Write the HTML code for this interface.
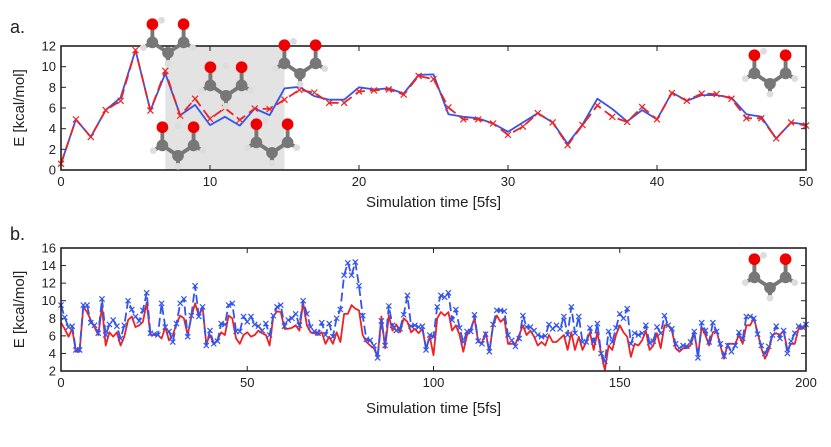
<!DOCTYPE html>
<html><head><meta charset="utf-8"><style>
body{margin:0;background:#fff;}
svg text{font-family:"Liberation Sans",Arial,sans-serif;fill:#222;}
</style></head><body>
<svg id="fig" width="831" height="442" viewBox="0 0 831 442" xmlns="http://www.w3.org/2000/svg"></svg>
<script>
// ---------- Panel a data ----------
const aX = Array.from({length:51},(_,i)=>i);
const aRed = [0.6,4.9,3.2,5.8,6.7,11.6,5.75,9.6,5.25,6.9,4.95,6.0,4.85,5.95,5.9,6.8,7.75,7.5,6.5,6.5,7.6,7.7,7.8,7.3,9.1,8.8,6.05,4.9,4.9,4.5,3.4,4.2,5.5,4.6,2.4,4.35,6.25,5.15,4.65,6.1,4.9,7.45,6.7,7.4,7.35,6.9,5.0,5.0,3.05,4.6,4.3];
const aBlue = [0.6,4.9,3.2,5.8,7.0,11.6,5.75,9.35,5.3,6.3,4.35,5.15,4.3,5.95,5.3,7.9,8.05,7.15,6.8,6.8,8.0,7.8,7.9,7.4,9.2,9.25,5.4,5.15,5.0,4.5,3.7,4.6,5.5,4.6,2.55,4.4,6.9,5.9,4.7,5.8,4.9,7.5,6.7,7.25,7.25,7.0,5.4,5.15,3.05,4.6,4.4];
const aXTicks = [0,10,20,30,40,50];
const aYTicks = [0,2,4,6,8,10,12];
const aShade = [7,15];
// ---------- Panel b data ----------
const bRed = [7.5,6.8,5.9,6.8,4.2,4.2,9.3,8.7,7.8,7,6.1,9.3,4.9,6.4,5.9,6.4,4.9,5.9,7.8,8.2,7,7.2,7.6,9.8,6.1,6.1,6.1,5.7,7,5.5,6.1,7.4,8.3,8,6.1,8.2,9.7,8.3,9.3,5.1,6.1,5.1,5.5,6.4,6.1,8.3,8,5.7,5.1,6.1,6.4,
5.9,6.1,6.6,6.3,6.1,4.9,8.2,8.8,8.7,6.8,6.8,6.9,7.2,6.6,9.8,7.2,6.4,6.3,6.1,6.4,5.1,5.9,5.1,6.4,5.3,8.5,8.5,9.5,9.1,8.9,6.1,5.3,4.9,4.6,3.6,8.2,4.6,8.3,6.6,7.3,6.4,8,7.6,6.4,6.8,6.3,6.8,4.6,5.9,3.8,
8,8.7,8.3,8.7,6.6,7.2,6.1,4.2,6.1,6.8,8,5.3,5.2,6.4,4.2,7.2,8.3,7.6,8,5.1,5.1,5.1,6.1,7.2,6.1,6.6,5.9,4.9,5.3,4.9,6.1,5.3,5.3,5.7,6.1,4.4,6.4,4.4,5.9,4.4,5.3,6.4,4.4,6.4,4,2.1,4.9,4.4,6.1,7.2,
6.4,5.9,3.6,5.1,4.9,5.5,6.6,4.4,4.9,6.3,4.6,7.2,7.2,6.6,4.6,4.2,4.6,4.6,4.9,6.3,3.8,7,6.1,4.9,6.4,6.6,4.9,3.4,5.1,5.1,5.1,6.1,5.1,7.2,7.2,8,6.4,4.6,3.4,4.4,6.1,6.3,6.1,6.6,4.4,5.1,5.1,6.8,6.8,7.2];
const bBlue = [9.5,8.1,7,7.1,4.4,4.4,9.5,9.5,7.5,7.2,6.3,10.2,6.1,7.3,7.8,7.1,5.7,7.2,10,9,8.2,7.7,8.9,10.9,6.3,6.2,6.1,9.7,7,6.5,5.3,7.4,9.7,10.2,5.9,8.3,11.7,8.2,9.3,4.9,6.6,5.1,5.4,7.4,7.3,9.5,9.7,6.5,6.5,8.2,7.6,
8.2,7.3,7.1,6.6,7.4,6.1,8.3,9.3,9.5,7.1,7.8,8,8.5,7.2,10,8.5,7,6.5,6.3,7.5,6.1,7.4,5.9,8,9,12.9,14.3,12.9,14.4,11.7,8.3,5.6,5.5,4.9,3.5,7.7,4.9,9.4,7.2,6.6,6.8,8.4,10.6,7.1,7.2,7,7.1,4.4,6.1,5.9,
9.3,10.6,10.4,10.9,7.8,9,6.9,5.3,6.5,6.5,8.4,5.4,5.1,6.2,4.2,7.3,8.9,8.9,8.8,6.1,5.5,4.8,5.7,8.3,7,7,6.6,6.1,5.9,6,7.3,6.8,7.2,6.8,8.2,6.1,9.3,6.3,8.2,5.3,5.3,6.9,5.3,7.4,4,3.1,6.5,5.3,6.9,8.5,
8,9.1,5.1,6.3,6.1,6.3,7.2,5.2,5.4,7,6.3,8.3,7.2,6.8,5.1,4.6,4.9,4.8,5.3,6.5,3.5,7.5,6.6,5.3,7.5,6.5,5.1,3.7,4.9,4.2,4.9,6.4,5.7,8.2,8.2,8,6.2,4.9,4,4.8,6.1,7.1,5.7,6.6,4,5.4,6.3,7.1,7.0,7.3];
const bXTicks = [0,50,100,150,200];
const bYTicks = [2,4,6,8,10,12,14,16];

const NS="http://www.w3.org/2000/svg";
const svg=document.getElementById('fig');
function mk(tag,attrs,parent){const e=document.createElementNS(NS,tag);for(const k in attrs)e.setAttribute(k,attrs[k]);(parent||svg).appendChild(e);return e;}

function axes(L,R,T,B,xmin,xmax,ymin,ymax){
  return {x:v=>L+(v-xmin)/(xmax-xmin)*(R-L), y:v=>B-(v-ymin)/(ymax-ymin)*(B-T)};
}

function molecule(cx,cy,s,closed,name){
  const g=mk('g',{transform:`translate(${cx},${cy}) scale(${s})`});
  
  
  const bond=(x1,y1,x2,y2)=>mk('line',{x1,y1,x2,y2,stroke:'#777','stroke-width':3},g);
  const atom=(x,y,r,c)=>mk('circle',{cx:x,cy:y,r,fill:c},g);
  bond(-12,-2,0,6);bond(0,6,12,-2);bond(-12,-2,-12,-16);bond(12,-2,12,-16);
  bond(-12,-2,-19,2);bond(12,-2,19,2);bond(0,6,0,14);
  atom(-19,2,2.6,'#ddd');atom(19,2,2.6,'#ddd');atom(0,14,2.6,'#ddd');
  if(closed){atom(0,-17,2.6,'#ddd');} else {atom(-5,-19,2.6,'#ddd');}
  atom(-12,-2,4.5,'#777');atom(12,-2,4.5,'#777');atom(0,6,4.5,'#777');
  atom(-12,-16,4.5,'#e00');atom(12,-16,4.5,'#e00');
}

function xmark(x,y,color,parent,name,r){
  const p=mk('path',{d:`M${x-r},${y-r}L${x+r},${y+r}M${x-r},${y+r}L${x+r},${y-r}`,stroke:color,'stroke-width':1.2,fill:'none'},parent);
  
  
}

function panel(opt){
  const {L,R,T,B}=opt;
  const A=axes(L,R,T,B,opt.xmin,opt.xmax,opt.ymin,opt.ymax);
  const g=mk('g',{});
  
  
  if(opt.shade){
    const sh=mk('rect',{x:A.x(opt.shade[0]),y:T,width:A.x(opt.shade[1])-A.x(opt.shade[0]),height:B-T,fill:'#e3e3e3'},g);
    
    
  }
  opt.xticks.forEach(t=>{
    const x=A.x(t);
    mk('line',{x1:x,y1:B,x2:x,y2:B-5,stroke:'#222','stroke-width':1},g);
    mk('line',{x1:x,y1:T,x2:x,y2:T+5,stroke:'#222','stroke-width':1},g);
    const tx=mk('text',{x:x,y:B+16,'font-size':13,'text-anchor':'middle'},g);tx.textContent=t;
    
    
  });
  opt.yticks.forEach(t=>{
    const y=A.y(t);
    mk('line',{x1:L,y1:y,x2:L+5,y2:y,stroke:'#222','stroke-width':1},g);
    mk('line',{x1:R,y1:y,x2:R-5,y2:y,stroke:'#222','stroke-width':1},g);
    const tx=mk('text',{x:L-5,y:y+4.5,'font-size':13,'text-anchor':'end'},g);tx.textContent=t;
    
    
  });
  opt.series.forEach(s=>{
    const pts=s.vals.map((v,i)=>A.x(s.xs[i]).toFixed(1)+','+A.y(v).toFixed(1)).join(' ');
    const pl=mk('polyline',{points:pts,fill:'none',stroke:s.color,'stroke-width':1.8,'stroke-dasharray':s.dash||'none','stroke-linejoin':'round'},g);
    
    
    if(s.marks){s.vals.forEach((v,i)=>xmark(A.x(s.xs[i]),A.y(v),s.color,g,s.name+'-marker',s.mr));}
  });
  const fr=mk('rect',{x:L,y:T,width:R-L,height:B-T,fill:'none',stroke:'#222','stroke-width':1.6},g);
  
  
  const yl=mk('text',{x:0,y:0,'font-size':15,'text-anchor':'middle',transform:`translate(${L-37},${(T+B)/2}) rotate(-90)`},g);
  yl.textContent='E [kcal/mol]';
  
  
  const xl=mk('text',{x:(L+R)/2,y:B+opt.xlOff,'font-size':15,'text-anchor':'middle'},g);
  xl.textContent='Simulation time [5fs]';
  
  
  const pl=mk('text',{x:opt.lx,y:opt.ly,'font-size':18},g);
  pl.textContent=opt.label;
  
  
}

panel({name:'panel-a',L:61,R:806,T:46,B:170,xmin:0,xmax:50,ymin:0,ymax:12,shade:aShade,
  xticks:aXTicks,yticks:aYTicks,label:'a.',lx:10,ly:33,xlOff:37,
  series:[{name:'blue-line-a',xs:aX,vals:aBlue,color:'#3355ee'},
          {name:'red-dashed-a',xs:aX,vals:aRed,color:'#ee2222',dash:'10 5',marks:true,mr:3}]});

const bX=Array.from({length:bRed.length},(_,i)=>i);
panel({name:'panel-b',L:61,R:806,T:248,B:371,xmin:0,xmax:200,ymin:2,ymax:16,
  xticks:bXTicks,yticks:bYTicks,label:'b.',lx:10,ly:240,xlOff:42,
  series:[{name:'red-line-b',xs:bX,vals:bRed,color:'#ee2222'},
          {name:'blue-dashed-b',xs:bX,vals:bBlue,color:'#3355ee',dash:'9 4',marks:true,mr:2.6}]});

molecule(168,45,1.3,false,'molecule-1');
molecule(226,88,1.3,true,'molecule-2');
molecule(178,148,1.3,true,'molecule-3');
molecule(300,66,1.3,false,'molecule-4');
molecule(272,145,1.3,false,'molecule-5');
molecule(770,76,1.3,false,'molecule-6');
molecule(770,280,1.3,false,'molecule-7');
</script>
</body></html>
